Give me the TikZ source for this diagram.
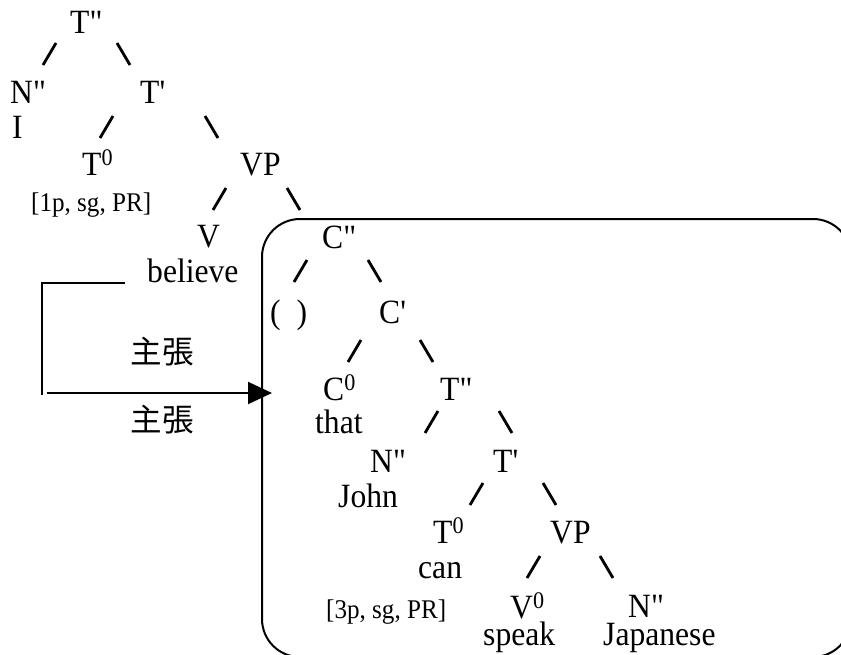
\documentclass[tikz,border=0pt]{standalone}
\usepackage{fontspec}
\setmainfont{Liberation Serif}[FakeStretch=0.93, Ligatures=TeXOff]
\newfontfamily\cjkfont{Noto Sans CJK JP}
\usetikzlibrary{arrows.meta}

\begin{document}
\begin{tikzpicture}[
    x=1pt, y=-1pt,
    lbl/.style={anchor=base west, inner sep=0pt, text depth=0pt, font=\fontsize{34}{40}\selectfont},
    feat/.style={lbl, font=\fontsize{27}{32}\selectfont},
    gloss/.style={inner sep=0pt, font=\cjkfont\fontsize{31.5}{36}\selectfont},
    branch/.style={line width=2.8pt},
    clausebox/.style={draw, line width=2pt, rounded corners=38pt, anchor=north west, inner sep=0pt, minimum width=589pt, minimum height=438pt},
    bond/.style={line width=2pt},
    arrow/.style={-{Triangle[length=24pt,width=22pt]}, line width=2pt}
]
\useasboundingbox (0,0) rectangle (841,654);

% Embedded clause frame
\node[clausebox] (clause) at (261,218) {};

% Matrix clause
\node[lbl] (top) at (70,33) {T"};
\node[lbl] (subj) at (10,103) {N"};
\node[lbl] (tbar) at (140,103) {T'};
\node[lbl] (pron) at (12,138) {I};
\node[lbl] (tzero) at (82,175) {T\textsuperscript{0}};
\node[lbl] (vp) at (240,175) {VP};
\node[feat] (agr) at (31,211) {[1p, sg, PR]};
\node[lbl] (verb) at (197,247) {V};
\node[lbl] (believe) at (147,282) {believe};

% Embedded clause
\node[lbl] (cpp) at (322,248) {C"};
\node[lbl] (spec) at (270,323) {(~~)};
\node[lbl] (cbar) at (379,323) {C'};
\node[lbl] (czero) at (323,400) {C\textsuperscript{0}};
\node[lbl] (tpp) at (440,400) {T"};
\node[lbl] (that) at (315,433) {that};
\node[lbl] (subj2) at (370,472) {N"};
\node[lbl] (tbar2) at (493,472) {T'};
\node[lbl] (john) at (338,507) {John};
\node[lbl] (tzero2) at (433,543) {T\textsuperscript{0}};
\node[lbl] (vp2) at (550,543) {VP};
\node[lbl] (can) at (418,578) {can};
\node[feat] (agr2) at (326,618) {[3p, sg, PR]};
\node[lbl] (vzero) at (510,618) {V\textsuperscript{0}};
\node[lbl] (obj) at (628,617) {N"};
\node[lbl] (speak) at (483,645) {speak};
\node[lbl] (japanese) at (603,645) {Japanese};

% Branches
\foreach \x/\y in {43/65, 100/138, 213/210, 294/282, 348/362, 425/433, 470/505, 527/578}
    \draw[branch] (\x,\y) -- ++(13,-22);
\foreach \x/\y in {130/65, 218/138, 300/210, 381/282, 433/362, 512/433, 556/505, 613/578}
    \draw[branch] (\x,\y) -- ++(-13,-22);

% Selection link
\coordinate (turn) at (42,395);
\coordinate (from) at (47,393);
\draw[bond] ([xshift=-22pt,yshift=-1pt]believe.base west) -| (turn);
\draw[arrow, shorten >=-11pt] (from) -- (clause.west |- from);
\node[gloss] (claim) at (162,352) {主張};
\node[gloss] (claim2) at (162,420) {主張};

\end{tikzpicture}
\end{document}
